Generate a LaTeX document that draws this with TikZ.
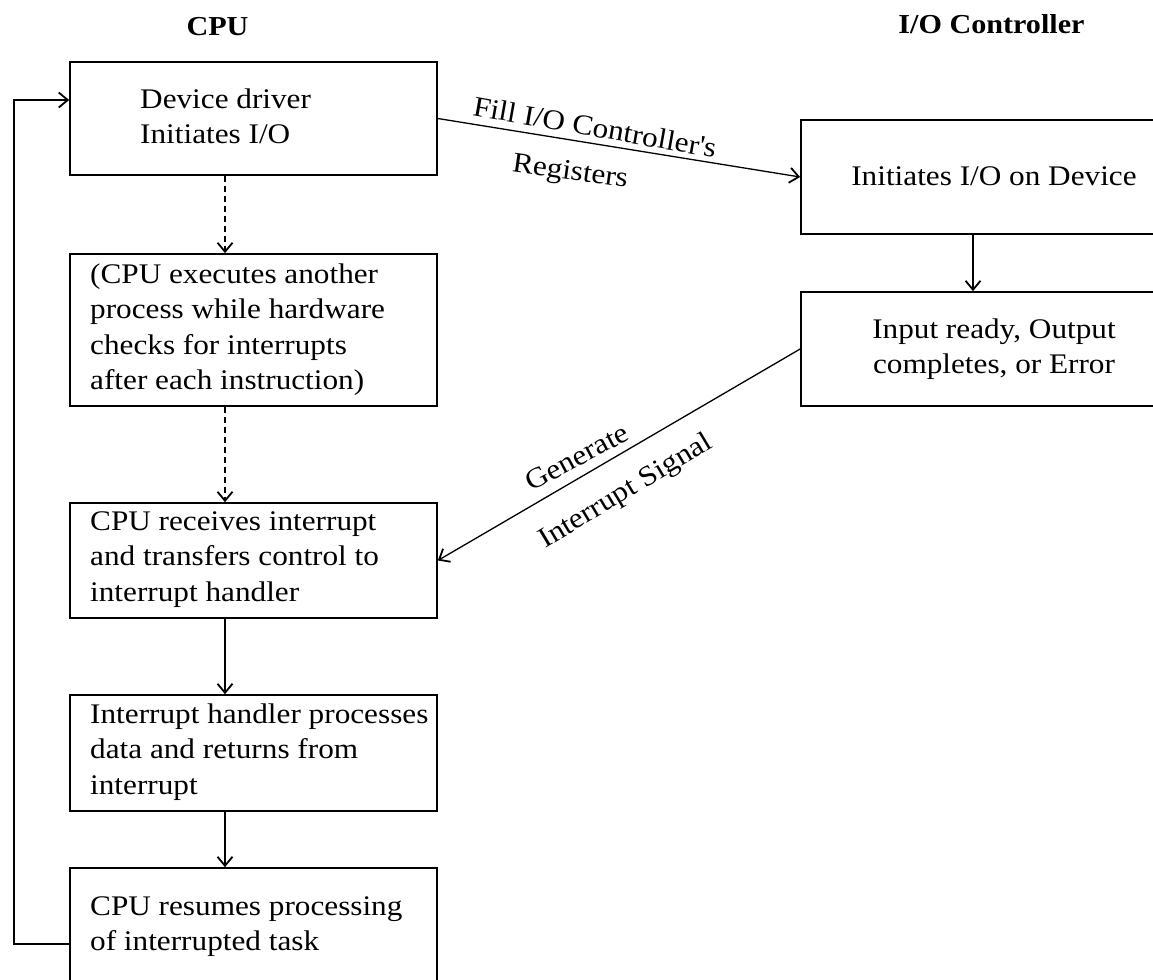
\documentclass[tikz,border=0pt]{standalone}
\usepackage{fontspec}
\setmainfont{Liberation Serif}[FakeStretch=1.1]
\usetikzlibrary{arrows.meta}

\begin{document}
\begin{tikzpicture}[x=1bp,y=-1bp,
  box/.style={draw,line width=1.7bp,inner sep=0pt},
  cpubox/.style={box,minimum width=367bp},
  iobox/.style={box,minimum width=389bp},
  txt/.style={font=\fontsize{28.5}{35.5}\selectfont,inner sep=0pt,align=left,anchor=north west},
  ctxt/.style={font=\fontsize{28.5}{35.5}\selectfont,inner sep=0pt,align=center,anchor=north},
  head/.style={font=\fontsize{27.5}{34}\selectfont\bfseries,inner sep=0pt,anchor=base},
  lbl/.style={font=\fontsize{28.5}{34}\selectfont,inner sep=0pt},
  arr/.style={line width=1.6bp,-{Straight Barb[length=9bp,width=15bp,line width=1.8bp]}},
  thinarr/.style={arr,line width=1.3bp},
  dsh/.style={arr,dash pattern=on 6bp off 4bp},
]
\useasboundingbox (0,0) rectangle (1153,980);
\fill[white] (0,0) rectangle (1153,980);
\clip (0,0) rectangle (1153,980);

% column headings
\node[head] (hcpu) at (217.5,35) {CPU};
\node[head] (hio) at (991.5,33) {I/O Controller};

% CPU column
\node[cpubox,minimum height=113bp] (b1) at (253.5,118.5) {};
\node[cpubox,minimum height=152bp] (b2) at (253.5,330) {};
\node[cpubox,minimum height=115bp] (b3) at (253.5,560.5) {};
\node[cpubox,minimum height=116bp] (b4) at (253.5,753) {};
\node[cpubox,minimum height=152bp] (b5) at (253.5,944) {};

\node[txt] (t1) at (140,83.5) {\strut Device driver\\Initiates I/O};
\node[txt] (t2) at (90,258.5) {\strut (CPU executes another\\process while hardware\\checks for interrupts\\after each instruction)};
\node[txt] (t3) at (90,505.5) {\strut CPU receives interrupt\\and transfers control to\\interrupt handler};
\node[txt] (t4) at (90,698.5) {\strut Interrupt handler processes\\data and returns from\\interrupt};
\node[txt] (t5) at (90,890.5) {\strut CPU resumes processing\\of interrupted task};

% I/O controller column
\node[iobox,minimum height=114bp] (r1) at (995.5,177) {};
\node[iobox,minimum height=114bp] (r2) at (995.5,349) {};
\node[ctxt] (u1) at (994,160.5) {\strut Initiates I/O on Device};
\node[ctxt] (u2) at (994,313.5) {\strut Input ready, Output\\completes, or Error};

% vertical flow
\coordinate (vx) at (225,0);
\coordinate (rx) at (973,0);
\draw[dsh] (b1.south -| vx) -- (b2.north -| vx);
\draw[dsh] (b2.south -| vx) -- (b3.north -| vx);
\draw[arr] (b3.south -| vx) -- (b4.north -| vx);
\draw[arr] (b4.south -| vx) -- (b5.north -| vx);
\draw[arr] (r1.south -| rx) -- (r2.north -| rx);

% loop back to the driver
\coordinate (lb) at (14,944);
\coordinate (lt) at (14,100);
\draw[arr] (b5.west) -- (lb) -- (lt) -- (lt -| b1.west);

% cross connections
\draw[thinarr] (b1.east) -- (r1.west);
\draw[thinarr] (r2.west) -- (b3.east);

\node[lbl,rotate=-10] (l1) at (595,127) {Fill I/O Controller\textquotesingle s};
\node[lbl,rotate=-8] (l2) at (570,173) {Registers};
\node[lbl,rotate=28] (l3) at (577,457) {Generate};
\node[lbl,rotate=31] (l4) at (626,492) {Interrupt Signal};
\end{tikzpicture}
\end{document}
